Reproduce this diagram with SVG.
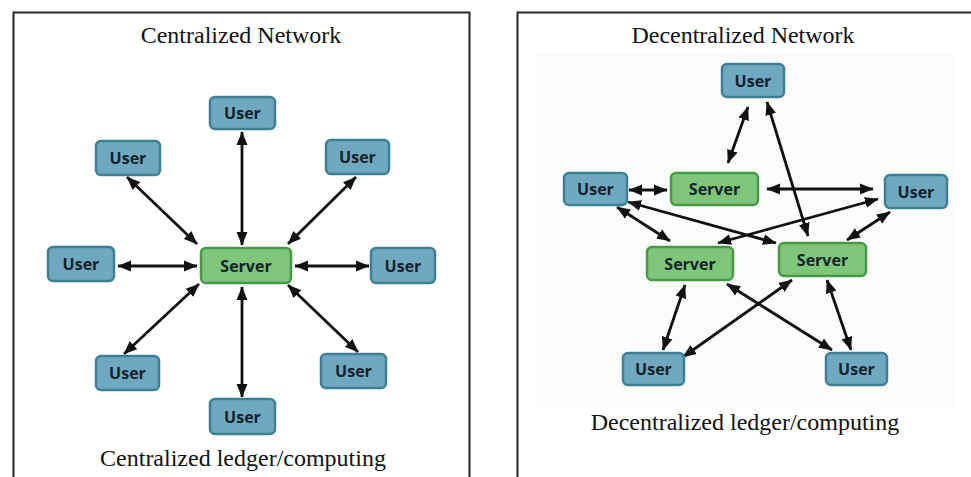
<svg xmlns="http://www.w3.org/2000/svg" width="971" height="477" viewBox="0 0 971 477">
  <defs>
    <style>
      .frame { fill: none; stroke: #262626; stroke-width: 2; }
      .title { font-family: "Liberation Serif", "Times New Roman", serif; font-size: 24px; fill: #111; text-anchor: middle; }
      .user rect { fill: #6fa8c1; stroke: #3e7f96; stroke-width: 2.5; }
      .server rect { fill: #7dc67a; stroke: #479946; stroke-width: 2.5; }
      .lbl { font-family: "Open Sans", "DejaVu Sans", sans-serif; font-weight: bold; font-size: 16px; fill: #15232a; text-anchor: middle; }
      .edges line { stroke: #111; stroke-width: 2.8; marker-start: url(#ah); marker-end: url(#ah); }
    </style>
    <marker id="ah" markerUnits="userSpaceOnUse" markerWidth="14" markerHeight="12" viewBox="0 0 14 12" refX="13" refY="6" orient="auto-start-reverse">
      <path d="M0,0.5 L13.5,6 L0,11.5 z" fill="#111"/>
    </marker>
  </defs>
  <rect width="971" height="477" fill="#fff"/>

  <!-- Left panel -->
  <path class="frame" d="M13.5,480 V12.5 H469.5 V480"/>
  <text class="title" x="241" y="43">Centralized Network</text>
  <text class="title" x="243" y="466">Centralized ledger/computing</text>

  <!-- Right panel -->
  <path class="frame" d="M517.5,480 V12.5 H975"/>
  <rect x="537" y="52" width="418" height="355" fill="#fcfcfc"/>
  <text class="title" x="743" y="43">Decentralized Network</text>
  <text class="title" x="745" y="430">Decentralized ledger/computing</text>

  <g class="edges" id="connectors">
    <!-- centralized -->
    <line x1="242" y1="132" x2="242" y2="245"/>
    <line x1="127" y1="177" x2="197" y2="244"/>
    <line x1="356" y1="177" x2="288" y2="244"/>
    <line x1="118" y1="266" x2="197" y2="266"/>
    <line x1="295" y1="266" x2="369" y2="266"/>
    <line x1="199" y1="284" x2="124" y2="354"/>
    <line x1="242" y1="287" x2="242" y2="397"/>
    <line x1="288" y1="285" x2="358" y2="352"/>
    <!-- decentralized -->
    <line x1="748" y1="107" x2="728" y2="163"/>
    <line x1="767" y1="102" x2="808" y2="236"/>
    <line x1="629" y1="190" x2="667" y2="190"/>
    <line x1="767" y1="189" x2="873" y2="189"/>
    <line x1="617" y1="207" x2="670" y2="241"/>
    <line x1="628" y1="202" x2="776" y2="243"/>
    <line x1="878" y1="199" x2="718" y2="243"/>
    <line x1="890" y1="212" x2="847" y2="240"/>
    <line x1="685" y1="285" x2="663" y2="350"/>
    <line x1="792" y1="280" x2="683" y2="357"/>
    <line x1="727" y1="284" x2="832" y2="350"/>
    <line x1="827" y1="280" x2="851" y2="350"/>
  </g>

  <!-- Centralized nodes -->
  <g id="c-server" class="server"><rect x="201" y="248" width="90" height="35" rx="5"/><text class="lbl" x="246" y="271.5">Server</text></g>
  <g id="c-user-top" class="user"><rect x="210" y="97" width="65" height="32" rx="5"/><text class="lbl" x="242.5" y="119">User</text></g>
  <g id="c-user-ul" class="user"><rect x="96" y="141" width="64" height="34" rx="5"/><text class="lbl" x="128" y="164">User</text></g>
  <g id="c-user-ur" class="user"><rect x="326" y="140" width="63" height="34" rx="5"/><text class="lbl" x="357.5" y="163">User</text></g>
  <g id="c-user-l" class="user"><rect x="48" y="247" width="66" height="34" rx="5"/><text class="lbl" x="81" y="270">User</text></g>
  <g id="c-user-r" class="user"><rect x="371" y="248" width="64" height="35" rx="5"/><text class="lbl" x="403" y="271.5">User</text></g>
  <g id="c-user-ll" class="user"><rect x="96" y="356" width="63" height="34" rx="5"/><text class="lbl" x="127.5" y="379">User</text></g>
  <g id="c-user-lr" class="user"><rect x="321" y="354" width="65" height="34" rx="5"/><text class="lbl" x="353.5" y="377">User</text></g>
  <g id="c-user-bottom" class="user"><rect x="210" y="399" width="65" height="35" rx="5"/><text class="lbl" x="242.5" y="422.5">User</text></g>

  <!-- Decentralized nodes -->
  <g id="d-user-top" class="user"><rect x="722" y="64" width="62" height="33" rx="5"/><text class="lbl" x="753" y="86.5">User</text></g>
  <g id="d-user-left" class="user"><rect x="564" y="173" width="63" height="32" rx="5"/><text class="lbl" x="595.5" y="195">User</text></g>
  <g id="d-server-top" class="server"><rect x="671" y="173" width="87" height="32" rx="5"/><text class="lbl" x="714.5" y="195">Server</text></g>
  <g id="d-user-right" class="user"><rect x="885" y="175" width="62" height="33" rx="5"/><text class="lbl" x="916" y="197.5">User</text></g>
  <g id="d-server-left" class="server"><rect x="647" y="247" width="86" height="33" rx="5"/><text class="lbl" x="690" y="269.5">Server</text></g>
  <g id="d-server-right" class="server"><rect x="779" y="243" width="87" height="33" rx="5"/><text class="lbl" x="822.5" y="265.5">Server</text></g>
  <g id="d-user-bl" class="user"><rect x="623" y="353" width="61" height="32" rx="5"/><text class="lbl" x="653.5" y="375">User</text></g>
  <g id="d-user-br" class="user"><rect x="826" y="353" width="61" height="32" rx="5"/><text class="lbl" x="856.5" y="375">User</text></g>
</svg>
